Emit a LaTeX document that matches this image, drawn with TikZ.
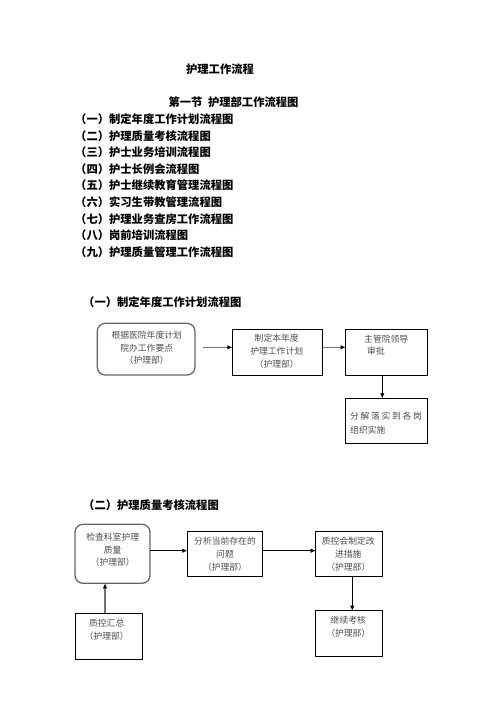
\documentclass[tikz,border=0pt]{standalone}
\usepackage{fontspec}
\setmainfont{Liberation Serif}
\newfontfamily\cjk{Noto Sans CJK SC}
\usetikzlibrary{arrows.meta}
\tikzset{
  head/.style={font=\cjk\bfseries\fontsize{11.3}{16.6}\selectfont, inner sep=0pt, text=black},
  boxtxt/.style={font=\cjk\fontsize{8.8}{12.6}\selectfont, inner sep=0pt, text=black!70, align=center},
  sq/.style={draw=black, line width=0.8pt, inner sep=0pt, outer sep=0pt},
  rbox/.style={draw=black!60, line width=1.3pt, rounded corners=8pt, inner sep=0pt, outer sep=0pt},
  arr/.style={draw=black, line width=0.8pt, -{Latex[length=5pt,width=4.5pt]}},
  garr/.style={draw=black!55, line width=1.4pt, -{Latex[black,length=5pt,width=4.5pt]}},
}
\begin{document}
\begin{tikzpicture}[x=1pt,y=-1pt]
\useasboundingbox (0,0) rectangle (496,702);
% headings
\node[head] (title) at (220,69) {护理工作流程};
\node[head] (sec) at (233.5,102) {第一节\hspace{0.5em}护理部工作流程图};
\node[head, anchor=west, align=left] (list) at (75,185.5) {（一）制定年度工作计划流程图\\（二）护理质量考核流程图\\（三）护士业务培训流程图\\（四）护士长例会流程图\\（五）护士继续教育管理流程图\\（六）实习生带教管理流程图\\（七）护理业务查房工作流程图\\（八）岗前培训流程图\\（九）护理质量管理工作流程图};
\node[head, anchor=west] (h1) at (83,302) {（一）制定年度工作计划流程图};
\node[head, anchor=west] (h2) at (83,505) {（二）护理质量考核流程图};

% chart 1
\node[rbox, minimum width=97.7pt, minimum height=51.7pt] (a) at (146.15,349.15) {};
\node[boxtxt] (at) at (146.7,348) {根据医院年度计划\\院办工作要点\\（护理部）};
\node[sq, minimum width=90.4pt, minimum height=45.7pt] (b) at (277.5,352.15) {};
\node[boxtxt, font=\cjk\fontsize{8.8}{13}\selectfont] (bt) at (276.7,351.4) {制定本年度\\护理工作计划\\（护理部）};
\node[sq, minimum width=82pt, minimum height=45.7pt] (c) at (386.7,352.15) {};
\node[boxtxt, anchor=west, align=left] (ct) at (364,345.3) {主管院领导\\\hspace{3pt}审批};
\node[sq, minimum width=82pt, minimum height=45pt] (d) at (386.7,420.8) {};
\node[boxtxt, anchor=west, align=left, font=\cjk\fontsize{8.8}{14}\selectfont] (dt) at (350,423) {\makebox[71.7pt][s]{分\hfill 解\hfill 落\hfill 实\hfill 到\hfill 各\hfill 岗}\\组织实施};
\draw[garr] (a.east |- 0,347.3) ++(7.7,0) coordinate (a1) -- (b.west |- a1);
\draw[garr] (b.east |- a1) -- (c.west |- a1);
\draw[arr] (c.south -| 382.3,0) -- (d.north -| 382.3,0);

% chart 2
\node[rbox, minimum width=75pt, minimum height=59pt] (e) at (112.5,553.8) {};
\node[boxtxt] (et) at (112.7,549.7) {检查科室护理\\质量\\（护理部）};
\node[sq, minimum width=75.4pt, minimum height=45pt] (f) at (225,554.2) {};
\node[boxtxt] (ft) at (225,554.1) {分析当前存在的\\问题\\（护理部）};
\node[sq, minimum width=66.6pt, minimum height=45pt] (g) at (349,554.2) {};
\node[boxtxt] (gt) at (348.3,554.1) {质控会制定改\\进措施\\（护理部）};
\node[sq, minimum width=66.6pt, minimum height=45.3pt] (h) at (349,633.35) {};
\node[boxtxt] (ht) at (348.3,626.7) {继续考核\\（护理部）};
\node[sq, minimum width=66.6pt, minimum height=46pt] (i) at (109,636.3) {};
\node[boxtxt] (it) at (106.7,629.7) {质控汇总\\（护理部）};
\draw[arr] (e.east |- 0,550.7) -- (f.west |- 0,550.7);
\draw[arr] (f.east |- 0,550.7) -- (g.west |- 0,550.7);
\draw[arr] (g.south -| 352.3,0) -- (h.north -| 352.3,0);
\draw[garr] (i.north -| 105,0) -- (e.south -| 105,0);
\end{tikzpicture}
\end{document}
